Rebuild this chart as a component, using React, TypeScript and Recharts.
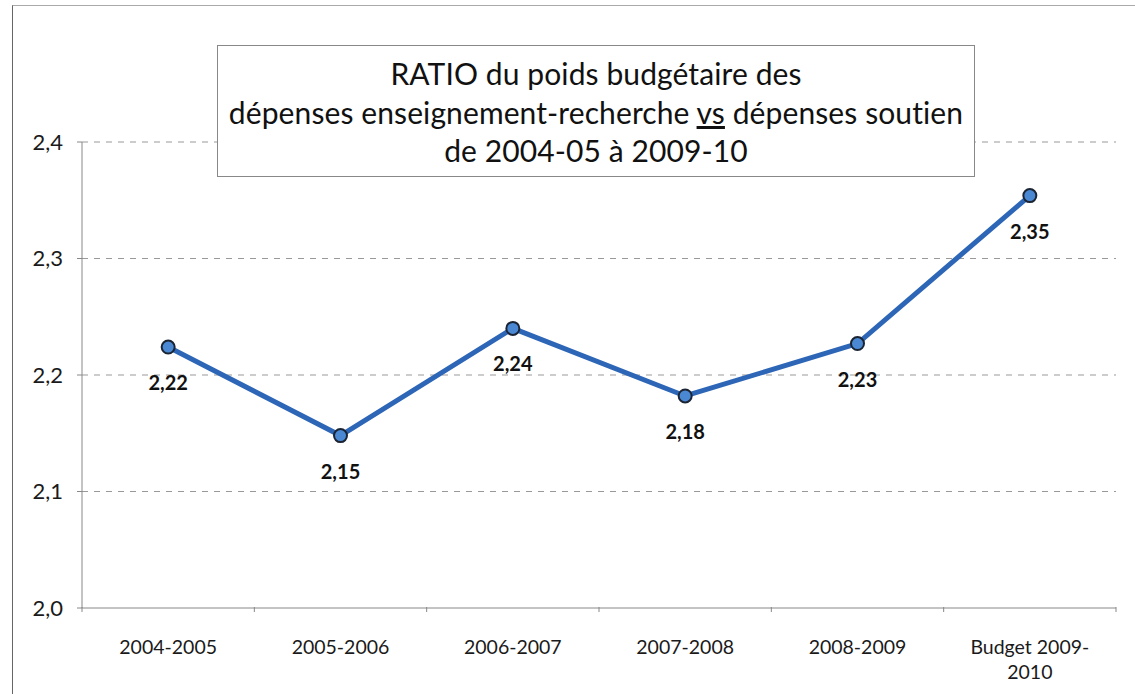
import React from "react";
import {
  LineChart,
  Line,
  XAxis,
  YAxis,
  CartesianGrid,
  LabelList,
} from "recharts";

const periods = ["2004-2005", "2005-2006", "2006-2007", "2007-2008", "2008-2009", "Budget 2009-\n2010"];
const ratios = [2.224, 2.148, 2.24, 2.182, 2.227, 2.354];
const yTicks = [2.0, 2.1, 2.2, 2.3, 2.4];
const titleLines = [
  "RATIO du poids budgétaire des",
  "dépenses enseignement-recherche vs dépenses soutien",
  "de 2004-05 à 2009-10",
];

const data = periods.map((p, i) => ({ period: p, ratio: ratios[i] }));

const FONT = "Lato, 'Open Sans', sans-serif";
const fmt = (v: number) => v.toFixed(1).replace(".", ",");

function PeriodTick(props: any) {
  const { x, y, payload, index, visibleTicksCount } = props;
  const half = payload.offset || 86;
  const lines = String(payload.value).split("\n");
  const isLast = index === (visibleTicksCount ?? periods.length) - 1;
  return (
    <g>
      {/* tick marks on band boundaries */}
      <line x1={x - half} x2={x - half} y1={y - 8} y2={y - 3} stroke="#888" />
      {isLast && <line x1={x + half} x2={x + half} y1={y - 8} y2={y - 3} stroke="#888" />}
      {lines.map((l, i) => (
        <text
          key={i}
          x={x}
          y={y + 39 + i * 25}
          textAnchor="middle"
          fontSize={19.5}
          fontFamily={FONT}
          fill="#1a1a1a"
        >
          {l}
        </text>
      ))}
    </g>
  );
}

function ValueLabel(props: any) {
  const { x, y, value } = props;
  return (
    <text
      x={x}
      y={y + 43}
      textAnchor="middle"
      fontSize={20}
      fontWeight={700}
      fontFamily={FONT}
      fill="#111"
    >
      {Number(value).toFixed(2).replace(".", ",")}
    </text>
  );
}

function TitleLine({ text }: { text: string }) {
  if (!text.includes(" vs ")) return <div>{text}</div>;
  const [a, b] = text.split(" vs ");
  return (
    <div>
      {a} <span style={{ textDecoration: "underline" }}>vs</span> {b}
    </div>
  );
}

export default function App() {
  return (
    <div style={{ position: "absolute", left: 0, top: 0, width: 1135, height: 694, background: "#fff", overflow: "hidden" }}>
      {/* outer chart frame */}
      <div
        style={{
          position: "absolute",
          left: 12,
          top: 5,
          width: 1140,
          height: 700,
          borderLeft: "1.5px solid #666",
          borderTop: "1px solid #aaa",
        }}
      />
      <LineChart
        width={1135}
        height={694}
        data={data}
        margin={{ top: 142, right: 19, bottom: 0, left: 0 }}
        style={{ position: "absolute", left: 0, top: 0 }}
      >
        <CartesianGrid
          vertical={false}
          stroke="#999"
          strokeDasharray="6 6"
          horizontalValues={[2.1, 2.2, 2.3, 2.4]}
        />
        <XAxis
          dataKey="period"
          scale="band"
          height={86}
          interval={0}
          axisLine={{ stroke: "#888" }}
          tickLine={false}
          tickSize={5}
          tick={<PeriodTick />}
        />
        <YAxis
          width={82}
          domain={[2.0, 2.4]}
          ticks={yTicks}
          tickFormatter={fmt}
          tickSize={5}
          tickMargin={14}
          axisLine={{ stroke: "#888" }}
          tickLine={{ stroke: "#888" }}
          tick={{ fontSize: 22, fontFamily: FONT, fill: "#1a1a1a" }}
        />
        <Line
          dataKey="ratio"
          stroke="#2d66b6"
          strokeWidth={5}
          isAnimationActive={false}
          dot={{ r: 6.5, fill: "#4a88d4", stroke: "#1b2433", strokeWidth: 2 }}
        >
          <LabelList dataKey="ratio" content={<ValueLabel />} />
        </Line>
      </LineChart>
      {/* title box */}
      <div
        style={{
          position: "absolute",
          left: 217,
          top: 45,
          width: 758,
          height: 132,
          boxSizing: "border-box",
          border: "1px solid #888",
          background: "#fff",
          fontFamily: FONT,
          fontSize: 30,
          lineHeight: "38.5px",
          color: "#111",
          textAlign: "center",
          paddingTop: 8,
          letterSpacing: 0.1,
        }}
      >
        {titleLines.map((t, i) => (
          <TitleLine key={i} text={t} />
        ))}
      </div>
    </div>
  );
}
